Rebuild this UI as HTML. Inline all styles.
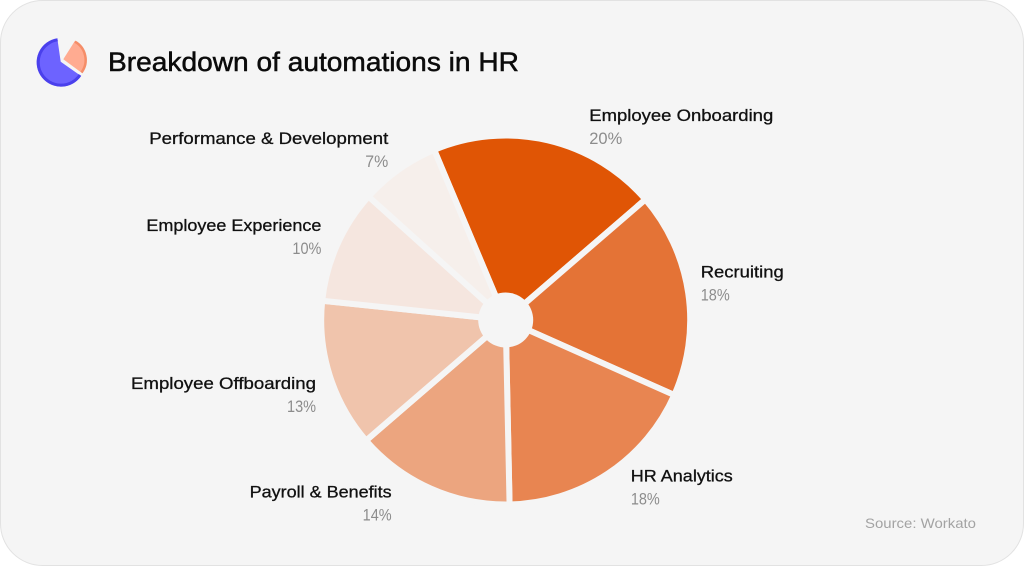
<!DOCTYPE html>
<html lang="en">
<head>
<meta charset="utf-8">
<title>Breakdown of automations in HR</title>
<style>
html,body{margin:0;padding:0;background:#fff;}
body{width:1024px;height:566px;overflow:hidden;font-family:"Liberation Sans",sans-serif;}
svg{display:block;}
text{font-family:"Liberation Sans",sans-serif;}
</style>
</head>
<body>
<svg id="chart" xmlns="http://www.w3.org/2000/svg" width="1024" height="566" viewBox="0 0 1024 566">
  <rect x="0.5" y="0.5" width="1023" height="565" rx="42" ry="42" fill="#f5f5f5" stroke="#e2e2e2"/>
  <g>
    <path d="M57.3 38.3 A24.3 24.3 0 1 0 81 76 L60.7 61.7 Z" fill="#6d63ff"/>
    <path d="M57.6 39.8 A22.8 22.8 0 1 0 80 75" fill="none" stroke="#4a40ec" stroke-width="3"/>
    <path d="M63.3 59.3 L75 40.7 A22.5 22.5 0 0 1 82.3 73.3 Z" fill="#ffab91"/>
    <path d="M75 41.7 A21 21 0 0 1 81.5 72.5" fill="none" stroke="#f58d68" stroke-width="2.5"/>
  </g>
  <text x="108" y="71" font-size="27" fill="#0b0b0b" stroke="#0b0b0b" stroke-width="0.5" textLength="411" lengthAdjust="spacingAndGlyphs">Breakdown of automations in HR</text>
  <g id="slices"></g>
  <circle id="hole" r="27.5" fill="#f5f5f5"/>
  <g id="labels"></g>
  <text x="865" y="528" font-size="14" fill="#a3a3a3" textLength="111" lengthAdjust="spacingAndGlyphs">Source: Workato</text>
</svg>
<script>
const categories = ["Employee Onboarding", "Recruiting", "HR Analytics", "Payroll & Benefits", "Employee Offboarding", "Employee Experience", "Performance & Development"];
const shares = [20, 18, 18, 14, 13, 10, 7];
const sliceColors = ["#e05505", "#e47336", "#e88551", "#eca57f", "#f0c4ac", "#f5e6df", "#f6efeb"];
const sliceNames = ["slice-employee-onboarding", "slice-recruiting", "slice-hr-analytics", "slice-payroll-benefits", "slice-employee-offboarding", "slice-employee-experience", "slice-performance-development"];

const cx = 505.7, cy = 320, outerRadius = 184.5, labelRadius = 182, startAngle = -22.8;
const labelLayout = [
  {dx: 42, dy: -22, anchor: "start", w: 184, pw: 33},
  {dx: 15, dy: -16, anchor: "start", w: 83, pw: 29},
  {dx: 24.4, dy: 10, anchor: "start", w: 102, pw: 29},
  {dx: -40, dy: 11, anchor: "end", w: 142, pw: 29},
  {dx: -16, dy: 14.5, anchor: "end", w: 185, pw: 29},
  {dx: -18, dy: -15, anchor: "end", w: 175, pw: 29},
  {dx: -12, dy: -27.5, anchor: "end", w: 239, pw: 23}
];

const NS = "http://www.w3.org/2000/svg";
const total = shares.reduce((a, b) => a + b, 0);
const angleScale = v => v / total * 360;
const polar = (r, deg) => {
  const a = deg * Math.PI / 180;
  return [cx + r * Math.sin(a), cy - r * Math.cos(a)];
};
const slicesGroup = document.getElementById("slices");
const labelsGroup = document.getElementById("labels");
const hole = document.getElementById("hole");
hole.setAttribute("cx", cx);
hole.setAttribute("cy", cy);

let angle = startAngle;
shares.forEach((value, i) => {
  const sweep = angleScale(value);
  const a0 = angle, a1 = angle + sweep, mid = angle + sweep / 2;
  const p0 = polar(outerRadius, a0), p1 = polar(outerRadius, a1);
  const path = document.createElementNS(NS, "path");
  path.setAttribute("d", `M${cx} ${cy} L${p0[0]} ${p0[1]} A${outerRadius} ${outerRadius} 0 ${sweep > 180 ? 1 : 0} 1 ${p1[0]} ${p1[1]} Z`);
  path.setAttribute("fill", sliceColors[i]);
  path.setAttribute("stroke", "#f5f5f5");
  path.setAttribute("stroke-width", "6");
  path.setAttribute("stroke-linejoin", "miter");
  
  
  slicesGroup.appendChild(path);

  const anchor = polar(labelRadius, mid);
  const lay = labelLayout[i];
  const x = anchor[0] + lay.dx, y = anchor[1] + lay.dy;

  const name = document.createElementNS(NS, "text");
  name.textContent = categories[i];
  name.setAttribute("x", lay.anchor === "end" ? x - lay.w : x);
  name.setAttribute("y", y);
  name.setAttribute("font-size", "17");
  name.setAttribute("fill", "#111");
  name.setAttribute("stroke", "#111");
  name.setAttribute("stroke-width", "0.3");
  name.setAttribute("textLength", lay.w);
  name.setAttribute("lengthAdjust", "spacingAndGlyphs");
  
  
  labelsGroup.appendChild(name);

  const pct = document.createElementNS(NS, "text");
  pct.textContent = value + "%";
  pct.setAttribute("x", lay.anchor === "end" ? x - lay.pw : x);
  pct.setAttribute("y", y + 23);
  pct.setAttribute("font-size", "17");
  pct.setAttribute("fill", "#8c8c8c");
  pct.setAttribute("textLength", lay.pw);
  pct.setAttribute("lengthAdjust", "spacingAndGlyphs");
  
  
  labelsGroup.appendChild(pct);

  angle = a1;
});
</script>
</body>
</html>
